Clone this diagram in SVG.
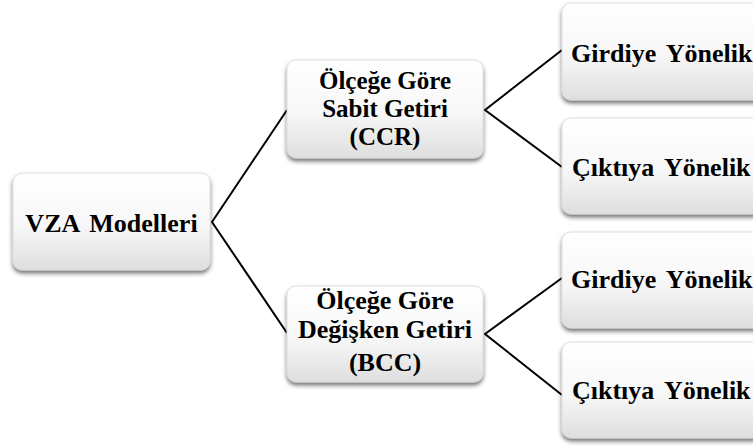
<svg xmlns="http://www.w3.org/2000/svg" width="753" height="447" viewBox="0 0 753 447">
<style>
.box{fill:url(#g);stroke:#d8d8d8;stroke-width:0.8;filter:url(#sh)}
.t{font-family:"Liberation Serif","Times New Roman",serif;font-weight:bold;font-size:26px;fill:#000}
.s{font-size:25px}
.c{stroke:#000;stroke-width:2;fill:none}
</style>
<defs>
<linearGradient id="g" x1="0" y1="0" x2="0" y2="1">
<stop offset="0" stop-color="#ffffff"/>
<stop offset="0.55" stop-color="#f7f7f7"/>
<stop offset="1" stop-color="#dedede"/>
</linearGradient>
<filter id="sh" x="-10%" y="-10%" width="120%" height="130%">
<feDropShadow dx="0" dy="3" stdDeviation="2" flood-color="#000" flood-opacity="0.55"/>
</filter>
</defs>
<rect width="753" height="447" fill="#fff"/>
<g id="connectors">
<polyline class="c" points="287,110 212,222 287,333"/>
<polyline class="c" points="562,50 485,110 562,167"/>
<polyline class="c" points="562,278 485,334 562,395"/>
</g>
<g id="vza">
<rect class="box" x="13" y="173" width="197" height="97" rx="9"/>
<text class="t" x="111.5" y="232" text-anchor="middle" word-spacing="4">VZA Modelleri</text>
</g>
<g id="ccr">
<rect class="box" x="287" y="60" width="196" height="98" rx="9"/>
<text class="t s" x="385" y="89" text-anchor="middle">Ölçeğe Göre</text>
<text class="t s" x="385" y="117" text-anchor="middle">Sabit Getiri</text>
<text class="t s" x="385" y="145" text-anchor="middle">(CCR)</text>
</g>
<g id="bcc">
<rect class="box" x="287" y="286" width="196" height="96" rx="9"/>
<text class="t" x="385" y="309" text-anchor="middle">Ölçeğe Göre</text>
<text class="t" x="385" y="338" text-anchor="middle">Değişken Getiri</text>
<text class="t" x="385" y="371" text-anchor="middle">(BCC)</text>
</g>
<g id="girdiye1">
<rect class="box" x="562" y="3" width="210" height="97" rx="9"/>
<text class="t" x="571" y="62" word-spacing="4">Girdiye Yönelik</text>
</g>
<g id="ciktiya1">
<rect class="box" x="562" y="118" width="210" height="96" rx="9"/>
<text class="t" x="572" y="176" word-spacing="4">Çıktıya Yönelik</text>
</g>
<g id="girdiye2">
<rect class="box" x="562" y="232" width="210" height="96" rx="9"/>
<text class="t" x="571" y="288" word-spacing="4">Girdiye Yönelik</text>
</g>
<g id="ciktiya2">
<rect class="box" x="562" y="342" width="210" height="96" rx="9"/>
<text class="t" x="572" y="399" word-spacing="4">Çıktıya Yönelik</text>
</g>
</svg>
